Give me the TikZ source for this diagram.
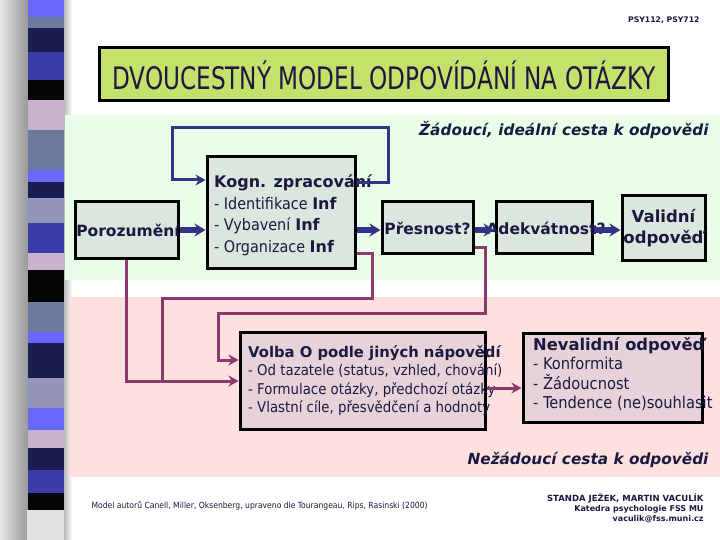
\documentclass[tikz,border=0pt]{standalone}
\usepackage{fontspec}
\setmainfont{DejaVuSansCondensed}[Extension=.ttf, UprightFont=*, BoldFont=DejaVuSans-Bold, ItalicFont=*-Oblique, BoldItalicFont=DejaVuSans-BoldOblique]
\usetikzlibrary{arrows.meta}
\definecolor{cA}{HTML}{6868F8}
\definecolor{cB}{HTML}{6C7AA0}
\definecolor{cC}{HTML}{1C1C50}
\definecolor{cD}{HTML}{3C3CA8}
\definecolor{cE}{HTML}{050505}
\definecolor{cF}{HTML}{C8B2CC}
\definecolor{cG}{HTML}{9494B8}
\definecolor{greenbg}{HTML}{E9FDE9}
\definecolor{pinkbg}{HTML}{FFE0E1}
\definecolor{boxfill}{HTML}{DCE6DF}
\definecolor{pinkbox}{HTML}{E8D2DA}
\definecolor{titlefill}{HTML}{C6E06C}
\definecolor{navy}{HTML}{33338C}
\definecolor{mag}{HTML}{8C3A6C}
\definecolor{ink}{HTML}{1A1A40}
\tikzset{
  box/.style={draw=black, line width=3pt, fill=boxfill, inner sep=0pt},
  pbox/.style={draw=black, line width=3pt, fill=pinkbox, inner sep=0pt},
  txt/.style={text=ink, inner sep=0pt, font=\fontsize{16}{21.5}\selectfont},
  btxt/.style={text=ink, inner sep=0pt, font=\fontsize{15.5}{19}\selectfont\bfseries},
  barrow/.style={draw=navy, line width=5pt, -{Stealth[length=11pt,width=13pt]}},
  loopline/.style={draw=navy, line width=3pt},
  marrow/.style={draw=mag, line width=3pt, -{Stealth[length=10pt,width=11pt]}},
  mline/.style={draw=mag, line width=3pt},
}
\begin{document}
\begin{tikzpicture}[x=1pt,y=-1pt]
\useasboundingbox (0,0) rectangle (720,540);
\fill[white] (0,0) rectangle (720,540);
% shadow of stripe bar
\shade[left color=black!10, right color=black!40] (0,0) rectangle (28,540);
\shade[left color=black!30, right color=white] (63,0) rectangle (72,540);
% stripes
\foreach \ya/\yb/\c in {0/17/cA,17/28/cB,28/52/cC,52/80/cD,80/100/cE,100/130/cF,130/170/cB,170/182/cA,182/198/cC,198/223/cG,223/253/cD,253/270/cF,270/302/cE,302/332/cB,332/343/cA,343/378/cC,378/408/cG,408/430/cA,430/448/cF,448/470/cC,470/493/cD,493/510/cE}
  \fill[\c] (28,\ya) rectangle (64,\yb);
\fill[black!12] (27,510) rectangle (64,540);
% background bands
\fill[greenbg] (65,115) rectangle (720,280);
\fill[pinkbg] (70,297) rectangle (720,477);
% header
\node[anchor=east, text=ink, font=\fontsize{7.7}{9}\selectfont\bfseries] (course) at (703,20) {PSY112, PSY712};
\node[draw=black, line width=3pt, fill=titlefill, minimum width=569pt, minimum height=53pt, inner sep=0pt] (title) at (383.5,74) {};
\node[text=ink, inner sep=0pt, font=\fontsize{31}{34}\selectfont] (titletext) at (384,75) {\scalebox{0.83}[1]{DVOUCESTNÝ MODEL ODPOVÍDÁNÍ NA OTÁZKY}};
\node[anchor=east, text=ink, font=\fontsize{15.3}{20}\selectfont\bfseries\itshape] (good) at (712,130) {Žádoucí, ideální cesta k odpovědi};
% boxes
\node[box, minimum width=103pt, minimum height=56pt] (por) at (126.5,230) {};
\node[box, minimum width=148pt, minimum height=111pt] (kogn) at (281,212.5) {};
\node[box, minimum width=91pt, minimum height=51pt] (pres) at (427.5,227.5) {};
\node[box, minimum width=96pt, minimum height=51pt] (adek) at (544,227.5) {};
\node[box, minimum width=83pt, minimum height=64pt] (valid) at (663.5,228) {};
\node[pbox, minimum width=245pt, minimum height=97pt] (volba) at (362.5,380.5) {};
\node[pbox, minimum width=179pt, minimum height=89pt] (nev) at (612.5,377.5) {};
% box texts
\node[btxt] (portext) at (128,230) {Porozumění};
\node[anchor=north west, align=left, txt] (kogntext) at (214,175) {\textbf{Kogn. zpracování}\\- Identifikace \textbf{Inf}\\- Vybavení \textbf{Inf}\\- Organizace \textbf{Inf}};
\node[btxt] (prestext) at (427.5,228) {Přesnost?};
\node[btxt] (adektext) at (546,228) {Adekvátnost?};
\node[btxt, align=center, font=\fontsize{16.5}{21}\selectfont\bfseries] (validtext) at (663.5,228) {Validní\\odpověď};
\node[anchor=north west, align=left, txt, font=\fontsize{14.8}{18.5}\selectfont] (volbatext) at (248,345) {\textbf{Volba O podle jiných nápovědí}\\- Od tazatele (status, vzhled, chování)\\- Formulace otázky, předchozí otázky\\- Vlastní cíle, přesvědčení a hodnoty};
\node[anchor=north west, align=left, txt, font=\fontsize{16.3}{19.5}\selectfont] (nevtext) at (533,337) {\textbf{Nevalidní odpověď}\\- Konformita\\- Žádoucnost\\- Tendence (ne)souhlasit};
% blue connectors
\draw[barrow] (por.east) -- (por.east -| kogn.west);
\draw[barrow] ([yshift=-2.5pt]pres.west -| kogn.east) -- ([yshift=-2.5pt]pres.west);
\draw[barrow] ([yshift=-2.5pt]pres.east) -- ([yshift=-2.5pt]adek.west);
\draw[barrow] ([yshift=-2.5pt]adek.east) -- ([yshift=-2.5pt]adek.east -| valid.west);
\coordinate (lA) at (388,128);
\coordinate (lB) at (172,128);
\draw[loopline, -{Stealth[length=10pt,width=11pt]}] ([yshift=29.5pt]kogn.east) -| (lA) -- (lB) |- ([yshift=32.5pt]kogn.west);
% magenta connectors
\coordinate (mA) at (372,298);
\coordinate (mB) at (162,381);
\coordinate (mC) at (485,313);
\coordinate (mD) at (218,313);
\draw[marrow] (por.south) |- ([yshift=-0.5pt]volba.west);
\draw[mline] ([yshift=-40.5pt]kogn.east) -| (mA) -| (mB);
\draw[marrow] ([yshift=-20pt]pres.east) -| (mC) -- (mD) |- ([yshift=20.5pt]volba.west);
\draw[marrow] ([yshift=-7.5pt]volba.east) -- ([yshift=-7.5pt]volba.east -| nev.west);
% bottom texts
\node[anchor=east, text=ink, font=\fontsize{15.3}{20}\selectfont\bfseries\itshape] (bad) at (712,460) {Nežádoucí cesta k odpovědi};
\node[anchor=west, text=ink, font=\fontsize{8.5}{10}\selectfont] (source) at (88,506) {Model autorů Canell, Miller, Oksenberg, upraveno dle Tourangeau, Rips, Rasinski (2000)};
\node[anchor=east, text=ink, font=\fontsize{8.5}{10}\selectfont\bfseries] (authors) at (707,498) {STANDA JEŽEK, MARTIN VACULÍK};
\node[anchor=east, text=ink, font=\fontsize{8}{10}\selectfont\bfseries] (dept) at (707,509) {Katedra psychologie FSS MU};
\node[anchor=east, text=ink, font=\fontsize{8}{10}\selectfont\bfseries] (mail) at (707,519) {vaculik@fss.muni.cz};
\end{tikzpicture}
\end{document}
